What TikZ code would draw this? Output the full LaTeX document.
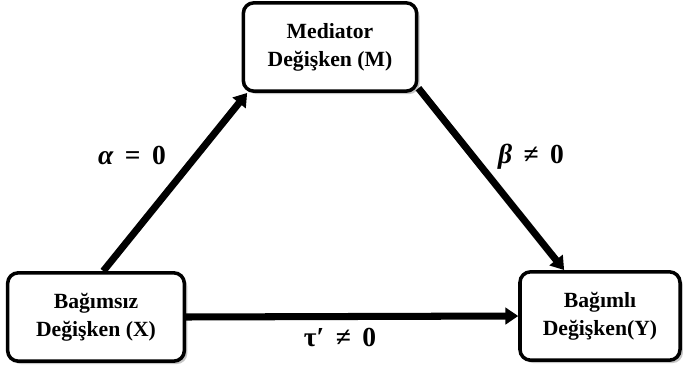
\documentclass[tikz,border=0pt]{standalone}
\usepackage{fontspec}
\setmainfont{Liberation Serif}
\usepackage{tikz}
\usetikzlibrary{arrows.meta, shadows}

\begin{document}
\begin{tikzpicture}[
  x=0.03cm, y=-0.03cm,
  every node/.style = {font=\fontsize{18.5}{24}\selectfont\bfseries},
  var/.style = {
    rectangle, rounded corners=9pt,
    draw=black, fill=white, line width=3pt,
    minimum width=#1, minimum height=2.65cm,
    align=center, inner sep=2pt,
    drop shadow={shadow xshift=2.5pt, shadow yshift=-2.5pt, fill=gray!45, opacity=1}
  },
  var/.default = 5.2cm,
  arr/.style = {-{Triangle[length=11pt, width=14pt]}, line width=6pt, draw=black},
  lbl/.style = {font=\fontsize{23.5}{28}\selectfont\bfseries, inner sep=1pt}
]
\useasboundingbox (0,0) rectangle (683,372);

% ---- variables ----
\node[var]        (med) at (330,47)  {Mediator\\Değişken (M)};
\node[var=5.3cm]  (ind) at (96,317)  {Bağımsız\\Değişken (X)};
\node[var=4.8cm]  (dep) at (600,316) {Bağımlı\\Değişken(Y)};

% ---- paths ----
\draw[arr] (ind.81)  -- (med.209);
\draw[arr] (med.335) -- (dep.128);
\draw[arr] (ind.east) -- (dep.west);

% ---- coefficients ----
\node[lbl] (alpha) at (132,155) {{\itshape α}\, = \,0};
\node[lbl] (beta)  at (531,157) {{\itshape β} \,≠\, 0};
\node[lbl] (tau)   at (340,337) {τ′\, ≠\, 0};

\end{tikzpicture}
\end{document}
